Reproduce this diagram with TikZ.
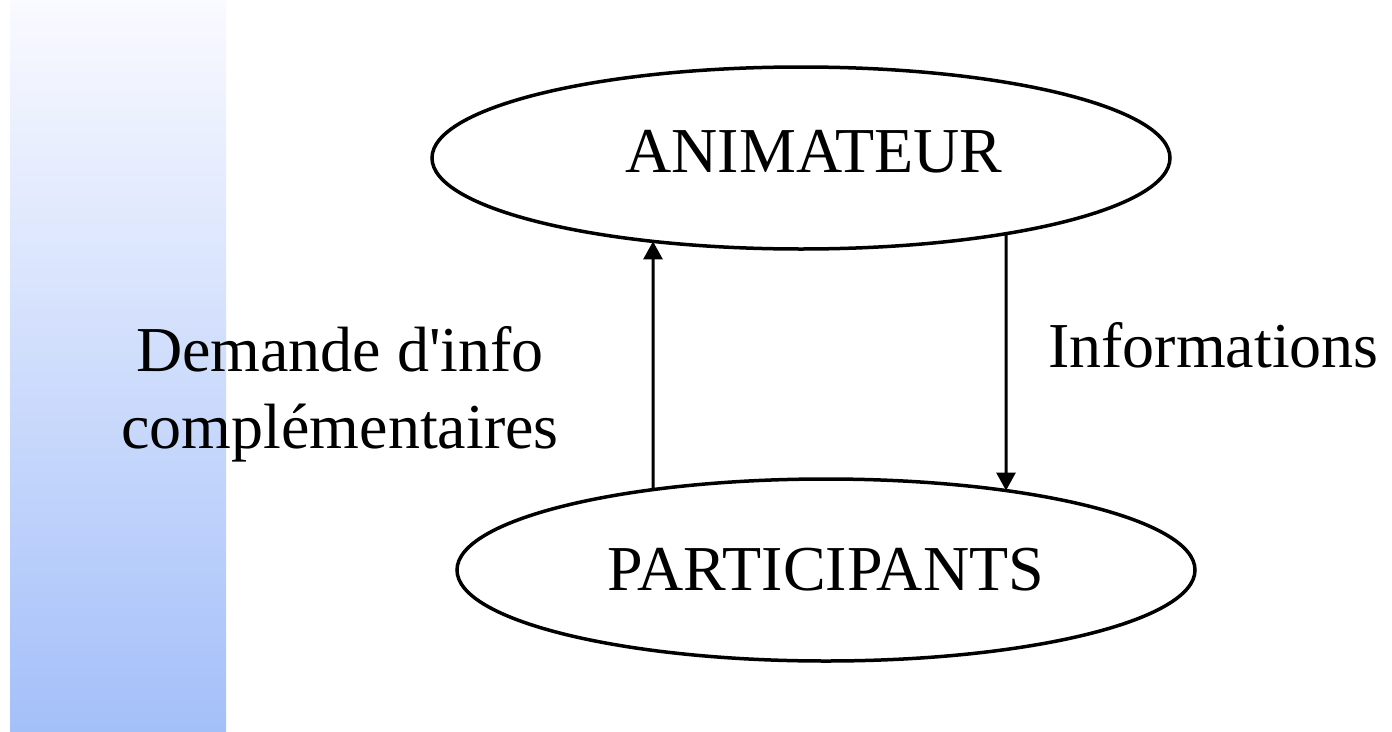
\documentclass[tikz,border=0pt]{standalone}
\usepackage{fontspec}
\setmainfont{Liberation Serif}
\usetikzlibrary{shapes.geometric,arrows.meta,intersections}

\begin{document}
\begin{tikzpicture}[x=1pt,y=-1pt,
    role/.style={draw,ellipse,line width=3.5pt,inner sep=0pt,minimum width=738pt,minimum height=182pt,font=\fontsize{64}{66}\selectfont},
    lbl/.style={inner sep=0pt,align=center,font=\fontsize{64}{77}\selectfont},
    flow/.style={line width=3pt,-{Triangle[length=18pt,width=19pt]}}]
    \useasboundingbox (0,0) rectangle (1392,731);
    \fill[white] (0,0) rectangle (1392,731);
    \shade[top color=blue!2!white,bottom color={rgb,255:red,164;green,192;blue,249}] (10,0) rectangle (226,731);
    % ellipses
    \node[role,name path=animb,text depth=13pt] (anim) at (801,158) {\hspace*{26pt}ANIMATEUR};
    \node[role,name path=partb] (part) at (826,570) {PARTICIPANTS};
    % arrows
    \path[name path=lline] (653,0) -- (653,731);
    \path[name path=rline] (1006,0) -- (1006,731);
    \path[name intersections={of=lline and animb,sort by=lline,name=al}];
    \path[name intersections={of=lline and partb,sort by=lline,name=pl}];
    \path[name intersections={of=rline and animb,sort by=rline,name=ar}];
    \path[name intersections={of=rline and partb,sort by=rline,name=pr}];
    \draw[flow] (pl-1) -- (al-2);
    \draw[flow] (ar-2) -- (pr-1);
    % labels
    \node[lbl,anchor=north] (dem) at (340,326) {Demande d\textquotesingle info\\compl\'ementaires};
    \node[lbl,anchor=base west] (info) at (1048,367) {Informations};
\end{tikzpicture}
\end{document}
